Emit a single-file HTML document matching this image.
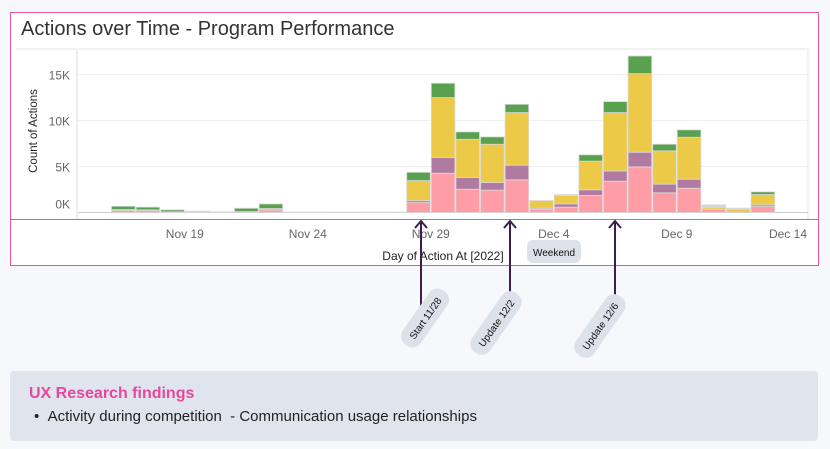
<!DOCTYPE html>
<html><head><meta charset="utf-8"><style>
body{margin:0;width:830px;height:449px;background:#f6f8fc;font-family:"Liberation Sans",sans-serif;overflow:hidden;position:relative}
</style></head><body>
<div style="position:absolute;left:10px;top:12px;width:807px;height:252px;border:1px solid #e8559c;background:#fff"></div>
<svg width="830" height="449" style="position:absolute;left:0;top:0" id="s">
<text x="21" y="35" font-size="20" fill="#333">Actions over Time - Program Performance</text>
<line x1="16" y1="49" x2="808" y2="49" stroke="#e6e6e6"/>
<line x1="77" y1="49" x2="77" y2="219" stroke="#ddd"/>
<line x1="808" y1="49" x2="808" y2="219" stroke="#e6e6e6"/>
<g id="grid"></g><g id="bars"></g>
<line x1="10" y1="219.5" x2="819" y2="219.5" stroke="#e8559c"/>
<text transform="translate(37,131) rotate(-90)" text-anchor="middle" font-size="11.5" fill="#222">Count of Actions</text>
<text x="443" y="260" text-anchor="middle" font-size="12" fill="#222">Day of Action At [2022]</text>
<g id="xt"></g>
<rect x="527" y="240" width="54" height="23" rx="6" fill="#dde2ea"/>
<text x="554" y="256" text-anchor="middle" font-size="10" fill="#111">Weekend</text>
<g stroke="#3b1f4f" stroke-width="2" fill="none">
<path d="M421 306V221M415 228L421 221L427 228"/>
<path d="M510 296V221M504 228L510 221L516 228"/>
<path d="M615 296V221M609 228L615 221L621 228"/>
</g>
<g transform="translate(425,318) rotate(-55)"><rect x="-33" y="-11" width="66" height="22" rx="10" fill="#dde2ea"/><text x="0" y="4" text-anchor="middle" font-size="10" fill="#111">Start 11/28</text></g>
<g transform="translate(496,323) rotate(-55)"><rect x="-36" y="-11" width="72" height="22" rx="10" fill="#dde2ea"/><text x="0" y="4" text-anchor="middle" font-size="10" fill="#111">Update 12/2</text></g>
<g transform="translate(600,326) rotate(-55)"><rect x="-36" y="-11" width="72" height="22" rx="10" fill="#dde2ea"/><text x="0" y="4" text-anchor="middle" font-size="10" fill="#111">Update 12/6</text></g>
</svg>
<div style="position:absolute;left:10px;top:371px;width:808px;height:70px;background:#e0e5ed;border-radius:4px">
<div style="position:absolute;left:19px;top:14px;font-size:16px;font-weight:bold;color:#e8479b">UX Research findings</div>
<div style="position:absolute;left:24px;top:37px;font-size:15px;color:#222">•&nbsp;&nbsp;Activity during competition&nbsp; - Communication usage relationships</div>
</div>
<script>
const days=["Nov16","Nov17","Nov18","Nov19","Nov20","Nov21","Nov22","Nov23","Nov24","Nov25","Nov26","Nov27","Nov28","Nov29","Nov30","Dec1","Dec2","Dec3","Dec4","Dec5","Dec6","Dec7","Dec8","Dec9","Dec10","Dec11","Dec12"];
const pinkVals=[220,220,70,0,0,100,290,0,0,0,0,0,1120,4270,2530,2430,3550,360,580,1850,3400,4960,2140,2640,360,0,650];
const purpleVals=[0,0,0,0,0,0,0,0,0,0,0,0,180,1700,1270,830,1590,110,360,620,1120,1590,940,980,0,0,180];
const yellowVals=[100,70,0,0,0,0,140,0,0,0,0,0,2170,6520,4160,4160,5720,830,900,3110,6340,8540,3620,4560,180,360,1120];
const greenVals=[360,290,220,0,0,360,500,0,0,0,0,0,900,1560,800,800,900,0,0,690,1190,1920,720,800,0,0,290];
const otherVals=[0,0,0,150,80,0,0,60,60,40,60,60,0,0,0,0,0,0,100,0,0,0,0,0,290,110,0];
const yTicks=[0,5000,10000,15000];
const yTickLabels=["0K","5K","10K","15K"];
const xTickLabels=["Nov 19","Nov 24","Nov 29","Dec 4","Dec 9","Dec 14"];
const xTickIdx=[3,8,13,18,23,28];
const NS="http://www.w3.org/2000/svg";
const y=v=>212.5-v*46/5000;
const x=i=>111+i*24.6;
function mk(t,a,p){const e=document.createElementNS(NS,t);for(const k in a)e.setAttribute(k,a[k]);p.appendChild(e);return e;}
const g=document.getElementById('grid');
yTicks.forEach((v,i)=>{
 const l=mk('line',{x1:78,x2:808,y1:y(v),y2:y(v),stroke:i?'#efefef':'#ccc'},g);
 
 
 const t=mk('text',{x:70,y:(i?y(v)+5:y(v)-4),'text-anchor':'end','font-size':12,fill:'#666'},g);
 t.textContent=yTickLabels[i];
 
 
});
const xt=document.getElementById('xt');
xTickLabels.forEach((s,i)=>{
 let px=x(xTickIdx[i]), anchor='middle';
 if(px>790){px=807;anchor='end';}
 const t=mk('text',{x:px,y:238,'text-anchor':anchor,'font-size':12,fill:'#666'},xt);
 t.textContent=s;
 
 
});
const bg=document.getElementById('bars');
const series=[[pinkVals,'#ff9da7'],[purpleVals,'#b07aa1'],[yellowVals,'#edc948'],[greenVals,'#59a14f'],[otherVals,'#d6d6d6']];
days.forEach((d,i)=>{
 let acc=0;
 series.forEach(([vals,c])=>{
  const v=vals[i]; if(!v) return;
  const r=mk('rect',{x:x(i)+0.5,y:y(acc+v),width:23.6,height:y(acc)-y(acc+v),fill:c,stroke:'#d9d9d9','stroke-width':0.8},bg);
  
  
  acc+=v;
 });
});
</script>
</body></html>
